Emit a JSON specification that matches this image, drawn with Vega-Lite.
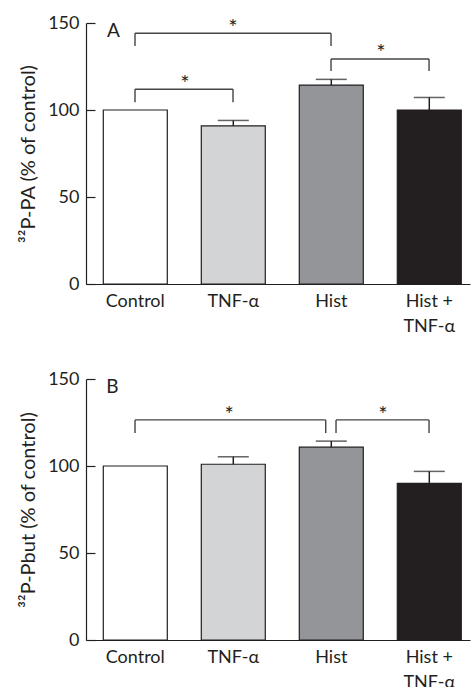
{
  "$schema": "https://vega.github.io/schema/vega-lite/v6.json",
  "padding": {"left": 18, "top": 14, "right": 1, "bottom": 0},
  "background": "white",
  "config": {
    "font": "Lato",
    "view": {"stroke": null},
    "axis": {
      "labelFontSize": 18, "titleFontSize": 20, "labelColor": "#231f20", "titleColor": "#231f20",
      "titleFontWeight": "normal", "domainColor": "#231f20", "tickColor": "#231f20", "grid": false,
      "domainWidth": 1.2, "tickWidth": 1.2
    }
  },
  "datasets": {
    "bars": [
      {"panel": "A", "group": "Control", "mean": 100},
      {"panel": "A", "group": "TNF-α", "mean": 90.9},
      {"panel": "A", "group": "Hist", "mean": 114.3},
      {"panel": "A", "group": "Hist + TNF-α", "mean": 100},
      {"panel": "B", "group": "Control", "mean": 100},
      {"panel": "B", "group": "TNF-α", "mean": 101},
      {"panel": "B", "group": "Hist", "mean": 110.8},
      {"panel": "B", "group": "Hist + TNF-α", "mean": 90}
    ],
    "err": [
      {"panel": "A", "group": "TNF-α", "mean": 90.9, "upper": 94.0},
      {"panel": "A", "group": "Hist", "mean": 114.3, "upper": 117.6},
      {"panel": "A", "group": "Hist + TNF-α", "mean": 100, "upper": 107.2},
      {"panel": "B", "group": "TNF-α", "mean": 101, "upper": 105.3},
      {"panel": "B", "group": "Hist", "mean": 110.8, "upper": 114.3},
      {"panel": "B", "group": "Hist + TNF-α", "mean": 90, "upper": 96.9}
    ],
    "brackets": [
      {"panel": "A", "from": 0.5, "to": 2.5, "top": 144.1, "low": 136.8},
      {"panel": "A", "from": 2.5, "to": 3.5, "top": 129.3, "low": 122.4},
      {"panel": "A", "from": 0.5, "to": 1.5, "top": 111.9, "low": 104.4},
      {"panel": "B", "from": 0.5, "to": 2.446, "top": 126.5, "low": 118.9},
      {"panel": "B", "from": 2.551, "to": 3.5, "top": 126.5, "low": 118.9}
    ],
    "stars": [
      {"panel": "A", "x": 1.5, "y": 150.7, "text": "*"},
      {"panel": "A", "x": 3.01, "y": 136.4, "text": "*"},
      {"panel": "A", "x": 1.01, "y": 118.2, "text": "*"},
      {"panel": "B", "x": 1.46, "y": 132.8, "text": "*"},
      {"panel": "B", "x": 3.03, "y": 132.8, "text": "*"}
    ],
    "letters": [
      {"panel": "A", "x": 0.28, "y": 145.4, "text": "A"},
      {"panel": "B", "x": 0.27, "y": 145.2, "text": "B"}
    ]
  },
  "bounds": "flush",
  "spacing": 95,
  "vconcat": [
    {
      "width": 384, "height": 261,
      "layer": [
        {
          "data": {"name": "bars"},
          "transform": [{"filter": "datum.panel == 'A'"}],
          "encoding": {
            "x": {"field": "group", "type": "nominal", "sort": ["Control", "TNF-α", "Hist", "Hist + TNF-α"],
              "scale": {"paddingInner": 0.347, "paddingOuter": 0.1327, "align": 0.665},
              "axis": {"title": null, "ticks": false, "labelAngle": 0, "labelPadding": 8, "labelLineHeight": 25,
                "labelExpr": "datum.value == 'Hist + TNF-α' ? ['Hist +', 'TNF-α'] : datum.label"}}
          },
          "layer": [
            {
              "mark": {"type": "bar", "stroke": "#231f20", "strokeWidth": 1.2},
              "encoding": {
                "y": {"field": "mean", "type": "quantitative", "scale": {"domain": [0, 150], "nice": false},
                  "axis": {"title": "³²P-PA (% of control)", "values": [0, 50, 100, 150], "tickSize": -9, "labelPadding": 16, "titlePadding": 9}},
                "color": {"field": "group", "type": "nominal",
                  "scale": {"domain": ["Control", "TNF-α", "Hist", "Hist + TNF-α"], "range": ["#ffffff", "#d3d4d6", "#939598", "#231f20"]},
                  "legend": null}
              }
            },
            {
              "data": {"name": "err"},
              "transform": [{"filter": "datum.panel == 'A'"}],
              "mark": {"type": "rule", "color": "#231f20", "strokeWidth": 1.5},
              "encoding": {
                "y": {"field": "mean", "type": "quantitative"},
                "y2": {"field": "upper"}
              }
            },
            {
              "data": {"name": "err"},
              "transform": [{"filter": "datum.panel == 'A'"}],
              "mark": {"type": "tick", "color": "#231f20", "thickness": 1.5, "size": 31},
              "encoding": {
                "y": {"field": "upper", "type": "quantitative"}
              }
            }
          ]
        },
        {
          "encoding": {
            "x": {"field": "x", "type": "quantitative", "scale": {"domain": [0, 3.918], "nice": false, "zero": false}, "axis": null}
          },
          "layer": [
            {
              "data": {"name": "brackets"},
              "transform": [{"filter": "datum.panel == 'A'"}],
              "mark": {"type": "rule", "color": "#444444", "strokeWidth": 1.4},
              "encoding": {
                "x": {"field": "from", "type": "quantitative"},
                "x2": {"field": "to"},
                "y": {"field": "top", "type": "quantitative"}
              }
            },
            {
              "data": {"name": "brackets"},
              "transform": [{"filter": "datum.panel == 'A'"}],
              "mark": {"type": "rule", "color": "#444444", "strokeWidth": 1.4},
              "encoding": {
                "x": {"field": "from", "type": "quantitative"},
                "y": {"field": "top", "type": "quantitative"},
                "y2": {"field": "low"}
              }
            },
            {
              "data": {"name": "brackets"},
              "transform": [{"filter": "datum.panel == 'A'"}],
              "mark": {"type": "rule", "color": "#444444", "strokeWidth": 1.4},
              "encoding": {
                "x": {"field": "to", "type": "quantitative"},
                "y": {"field": "top", "type": "quantitative"},
                "y2": {"field": "low"}
              }
            },
            {
              "data": {"name": "stars"},
              "transform": [{"filter": "datum.panel == 'A'"}],
              "mark": {"type": "text", "fontSize": 22, "color": "#231f20", "baseline": "middle", "align": "center", "dy": 6},
              "encoding": {
                "y": {"field": "y", "type": "quantitative"},
                "text": {"field": "text"}
              }
            },
            {
              "data": {"name": "letters"},
              "transform": [{"filter": "datum.panel == 'A'"}],
              "mark": {"type": "text", "fontSize": 19, "color": "#231f20", "baseline": "middle", "align": "center"},
              "encoding": {
                "y": {"field": "y", "type": "quantitative"},
                "text": {"field": "text"}
              }
            }
          ]
        }
      ],
      "resolve": {"scale": {"x": "independent"}}
    },
    {
      "width": 384, "height": 261,
      "layer": [
        {
          "data": {"name": "bars"},
          "transform": [{"filter": "datum.panel == 'B'"}],
          "encoding": {
            "x": {"field": "group", "type": "nominal", "sort": ["Control", "TNF-α", "Hist", "Hist + TNF-α"],
              "scale": {"paddingInner": 0.347, "paddingOuter": 0.1327, "align": 0.665},
              "axis": {"title": null, "ticks": false, "labelAngle": 0, "labelPadding": 8, "labelLineHeight": 25,
                "labelExpr": "datum.value == 'Hist + TNF-α' ? ['Hist +', 'TNF-α'] : datum.label"}}
          },
          "layer": [
            {
              "mark": {"type": "bar", "stroke": "#231f20", "strokeWidth": 1.2},
              "encoding": {
                "y": {"field": "mean", "type": "quantitative", "scale": {"domain": [0, 150], "nice": false},
                  "axis": {"title": "³²P-Pbut (% of control)", "values": [0, 50, 100, 150], "tickSize": -9, "labelPadding": 16, "titlePadding": 9}},
                "color": {"field": "group", "type": "nominal",
                  "scale": {"domain": ["Control", "TNF-α", "Hist", "Hist + TNF-α"], "range": ["#ffffff", "#d3d4d6", "#939598", "#231f20"]},
                  "legend": null}
              }
            },
            {
              "data": {"name": "err"},
              "transform": [{"filter": "datum.panel == 'B'"}],
              "mark": {"type": "rule", "color": "#231f20", "strokeWidth": 1.5},
              "encoding": {
                "y": {"field": "mean", "type": "quantitative"},
                "y2": {"field": "upper"}
              }
            },
            {
              "data": {"name": "err"},
              "transform": [{"filter": "datum.panel == 'B'"}],
              "mark": {"type": "tick", "color": "#231f20", "thickness": 1.5, "size": 31},
              "encoding": {
                "y": {"field": "upper", "type": "quantitative"}
              }
            }
          ]
        },
        {
          "encoding": {
            "x": {"field": "x", "type": "quantitative", "scale": {"domain": [0, 3.918], "nice": false, "zero": false}, "axis": null}
          },
          "layer": [
            {
              "data": {"name": "brackets"},
              "transform": [{"filter": "datum.panel == 'B'"}],
              "mark": {"type": "rule", "color": "#444444", "strokeWidth": 1.4},
              "encoding": {
                "x": {"field": "from", "type": "quantitative"},
                "x2": {"field": "to"},
                "y": {"field": "top", "type": "quantitative"}
              }
            },
            {
              "data": {"name": "brackets"},
              "transform": [{"filter": "datum.panel == 'B'"}],
              "mark": {"type": "rule", "color": "#444444", "strokeWidth": 1.4},
              "encoding": {
                "x": {"field": "from", "type": "quantitative"},
                "y": {"field": "top", "type": "quantitative"},
                "y2": {"field": "low"}
              }
            },
            {
              "data": {"name": "brackets"},
              "transform": [{"filter": "datum.panel == 'B'"}],
              "mark": {"type": "rule", "color": "#444444", "strokeWidth": 1.4},
              "encoding": {
                "x": {"field": "to", "type": "quantitative"},
                "y": {"field": "top", "type": "quantitative"},
                "y2": {"field": "low"}
              }
            },
            {
              "data": {"name": "stars"},
              "transform": [{"filter": "datum.panel == 'B'"}],
              "mark": {"type": "text", "fontSize": 22, "color": "#231f20", "baseline": "middle", "align": "center", "dy": 6},
              "encoding": {
                "y": {"field": "y", "type": "quantitative"},
                "text": {"field": "text"}
              }
            },
            {
              "data": {"name": "letters"},
              "transform": [{"filter": "datum.panel == 'B'"}],
              "mark": {"type": "text", "fontSize": 19, "color": "#231f20", "baseline": "middle", "align": "center"},
              "encoding": {
                "y": {"field": "y", "type": "quantitative"},
                "text": {"field": "text"}
              }
            }
          ]
        }
      ],
      "resolve": {"scale": {"x": "independent"}}
    }
  ]
}
